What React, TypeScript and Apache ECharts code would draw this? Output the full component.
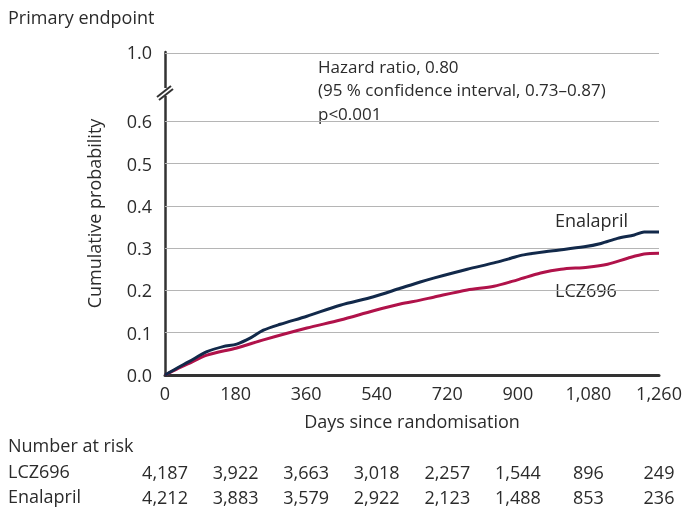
import React, { useEffect, useRef } from "react";
import * as echarts from "echarts";

const FONT = "'Open Sans'";
const TEXT = "#2b2b2b";

const tickDays = [0, 180, 360, 540, 720, 900, 1080, 1260];
const riskLCZ = ["4,187", "3,922", "3,663", "3,018", "2,257", "1,544", "896", "249"];
const riskEnal = ["4,212", "3,883", "3,579", "2,922", "2,123", "1,488", "853", "236"];

const enalDays = [0, 30, 60, 107, 148, 183, 217, 251, 294, 362, 447, 532, 600, 651, 685, 771, 839, 882, 915, 984, 1069, 1112, 1154, 1197, 1222, 1260];
const enalValues = [0, 0.016, 0.031, 0.055, 0.067, 0.073, 0.087, 0.106, 0.12, 0.139, 0.165, 0.185, 0.205, 0.22, 0.229, 0.25, 0.265, 0.276, 0.284, 0.293, 0.303, 0.311, 0.323, 0.331, 0.338, 0.338];

const lczDays = [0, 30, 60, 107, 183, 251, 362, 447, 532, 600, 651, 685, 771, 839, 899, 958, 1010, 1078, 1129, 1180, 1222, 1260];
const lczValues = [0, 0.014, 0.027, 0.047, 0.064, 0.083, 0.111, 0.13, 0.152, 0.168, 0.177, 0.184, 0.201, 0.21, 0.225, 0.241, 0.25, 0.255, 0.262, 0.276, 0.286, 0.288];

const annotationLines = ["Hazard ratio, 0.80", "(95 % confidence interval, 0.73–0.87)", "p<0.001"];

// y axis has a break: the value 1.0 is drawn at this position on the compressed scale
const BREAK_TOP = 0.7636;
const gridValues = [0.1, 0.2, 0.3, 0.4, 0.5, 0.6, BREAK_TOP];

export default function App() {
  const ref = useRef<HTMLDivElement>(null);
  useEffect(() => {
    if (!ref.current) return;
    const chart = echarts.init(ref.current, null, { renderer: "svg" });
    const fmtDay = (v: number) => v.toLocaleString("en-US");
    const riskAxis = (arr: string[], offset: number) => ({
      type: "value",
      min: 0,
      max: 1260,
      interval: 180,
      position: "bottom",
      offset,
      axisLine: { show: false },
      axisTick: { show: false },
      splitLine: { show: false },
      axisLabel: {
        margin: 0,
        fontFamily: FONT,
        fontSize: 18,
        color: TEXT,
        formatter: (v: number) => arr[Math.round(v / 180)] ?? "",
      },
    });
    const txt = (text: string, left: number, top: number, size = 18) => ({
      type: "text",
      left,
      top,
      style: { text, font: `${size}px ${FONT}`, lineHeight: 20, fill: TEXT },
    });
    chart.setOption({
      animation: false,
      textStyle: { fontFamily: FONT },
      grid: { left: 165, right: 39, top: 52, bottom: 138, containLabel: false },
      xAxis: [
        {
          type: "value",
          min: 0,
          max: 1260,
          interval: 180,
          name: "Days since randomisation",
          nameLocation: "middle",
          nameGap: 37,
          nameTextStyle: { fontFamily: FONT, fontSize: 18, color: TEXT },
          axisLine: { show: true, lineStyle: { color: "#333", width: 3 } },
          axisTick: { show: false },
          splitLine: { show: false },
          axisLabel: { margin: 9, fontFamily: FONT, fontSize: 18, color: TEXT, formatter: fmtDay },
        },
        riskAxis(riskLCZ, 88),
        riskAxis(riskEnal, 113),
      ],
      yAxis: {
        type: "value",
        min: 0,
        max: BREAK_TOP,
        interval: 0.1,
        name: "Cumulative probability",
        nameLocation: "middle",
        nameGap: 62,
        nameTextStyle: { fontFamily: FONT, fontSize: 18, color: TEXT },
        axisLine: { show: true, lineStyle: { color: "#333", width: 2.5 } },
        axisTick: { show: false },
        splitLine: { show: false },
        axisLabel: {
          margin: 13,
          fontFamily: FONT,
          fontSize: 18,
          color: TEXT,
          formatter: (v: number) => (v > 0.75 ? "1.0" : v < 0.65 ? v.toFixed(1) : ""),
        },
      },
      series: [
        {
          name: "LCZ696",
          type: "line",
          smooth: 0.3,
          showSymbol: false,
          data: lczDays.map((d, i) => [d, lczValues[i]]),
          lineStyle: { color: "#b0124a", width: 3 },
          z: 3,
          markLine: {
            silent: true,
            symbol: ["none", "none"],
            label: { show: false },
            lineStyle: { color: "#b5b5b5", width: 1, type: "solid" },
            data: gridValues.map((v) => ({ yAxis: v })),
            z: 1,
          },
        },
        {
          name: "Enalapril",
          type: "line",
          smooth: 0.3,
          showSymbol: false,
          data: enalDays.map((d, i) => [d, enalValues[i]]),
          lineStyle: { color: "#12294a", width: 3 },
          z: 4,
        },
      ],
      graphic: [
        txt("Primary endpoint", 8, 7),
        ...annotationLines.map((l, i) => txt(l, 318, 56 + i * 23.5, 17)),
        txt("Enalapril", 555, 210),
        txt("LCZ696", 555, 280),
        txt("Number at risk", 8, 435),
        txt("LCZ696", 8, 461),
        txt("Enalapril", 8, 486),
        { type: "rect", shape: { x: 156, y: 88, width: 18, height: 8 }, style: { fill: "#fff" }, z: 100 },
        { type: "line", shape: { x1: 157, y1: 97, x2: 171, y2: 86 }, style: { stroke: "#333", lineWidth: 2 }, z: 101 },
        { type: "line", shape: { x1: 159, y1: 100, x2: 173, y2: 89 }, style: { stroke: "#333", lineWidth: 2 }, z: 101 },
      ],
    });
    return () => chart.dispose();
  }, []);
  return <div ref={ref} style={{ position: "fixed", left: 0, top: 0, width: 698, height: 513 }} />;
}
